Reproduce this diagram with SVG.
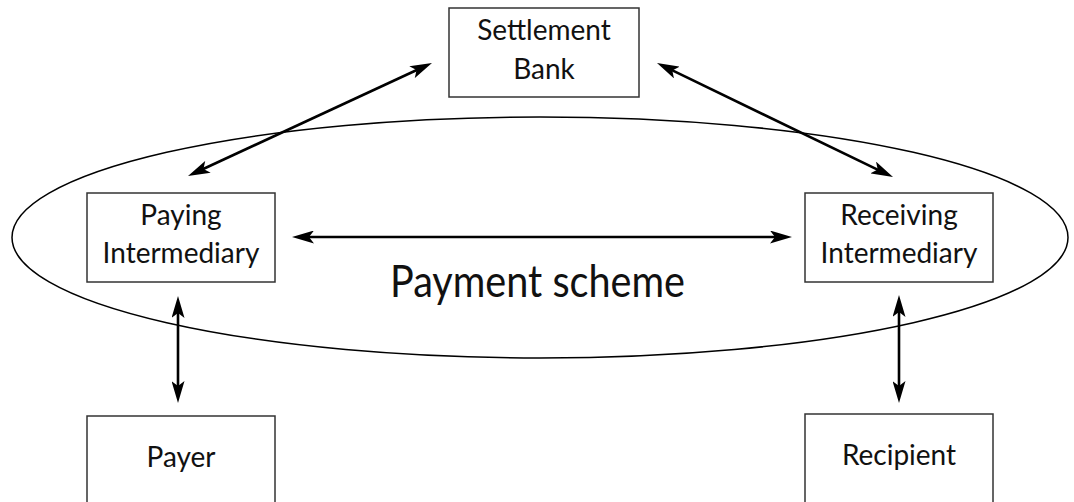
<svg xmlns="http://www.w3.org/2000/svg" width="1074" height="502" viewBox="0 0 1074 502">
  <style>
    .box { fill: #ffffff; stroke: #333333; stroke-width: 1.5; }
    .lbl { font-family: "Lato", "Liberation Sans", sans-serif; font-size: 28px; fill: #111111; text-anchor: middle; }
    .big { font-family: "Lato", "Liberation Sans", sans-serif; font-size: 44px; fill: #111111; text-anchor: middle; }
    .conn { fill: none; stroke: #000000; stroke-width: 2.6; marker-start: url(#arrow); marker-end: url(#arrow); }
  </style>
  <defs>
    <marker id="arrow" viewBox="0 0 22 13" markerWidth="22" markerHeight="13" refX="10" refY="6.5" markerUnits="userSpaceOnUse" orient="auto-start-reverse">
      <path d="M0,0 L22,6.5 L0,13 L5,6.5 Z" fill="#000000"/>
    </marker>
  </defs>
  <rect width="1074" height="502" fill="#ffffff"/>

  <g id="scheme">
    <ellipse cx="540" cy="237.5" rx="528" ry="120.5" fill="none" stroke="#000000" stroke-width="1.5"/>
    <text class="big" x="537.5" y="297" textLength="295" lengthAdjust="spacingAndGlyphs">Payment scheme</text>
  </g>

  <g id="settlement-bank">
    <rect class="box" x="449" y="8" width="190" height="89"/>
    <text class="lbl" x="544" y="40">Settlement</text>
    <text class="lbl" x="544" y="79">Bank</text>
  </g>

  <g id="paying-intermediary">
    <rect class="box" x="87" y="193" width="188" height="89"/>
    <text class="lbl" x="181" y="225">Paying</text>
    <text class="lbl" x="181" y="263">Intermediary</text>
  </g>

  <g id="receiving-intermediary">
    <rect class="box" x="805" y="193" width="188" height="89"/>
    <text class="lbl" x="899" y="225">Receiving</text>
    <text class="lbl" x="899" y="263">Intermediary</text>
  </g>

  <g id="payer">
    <rect class="box" x="87" y="416" width="188" height="100"/>
    <text class="lbl" x="181" y="467">Payer</text>
  </g>

  <g id="recipient">
    <rect class="box" x="805" y="414" width="188" height="100"/>
    <text class="lbl" x="899" y="465">Recipient</text>
  </g>

  <g id="connectors">
    <path class="conn" d="M198.9,171 L421.1,68"/>
    <path class="conn" d="M667.8,68.2 L882.2,171.8"/>
    <path class="conn" d="M304,237 L780,237"/>
    <path class="conn" d="M178,308 L178,391"/>
    <path class="conn" d="M899,307 L899,391"/>
  </g>
</svg>
